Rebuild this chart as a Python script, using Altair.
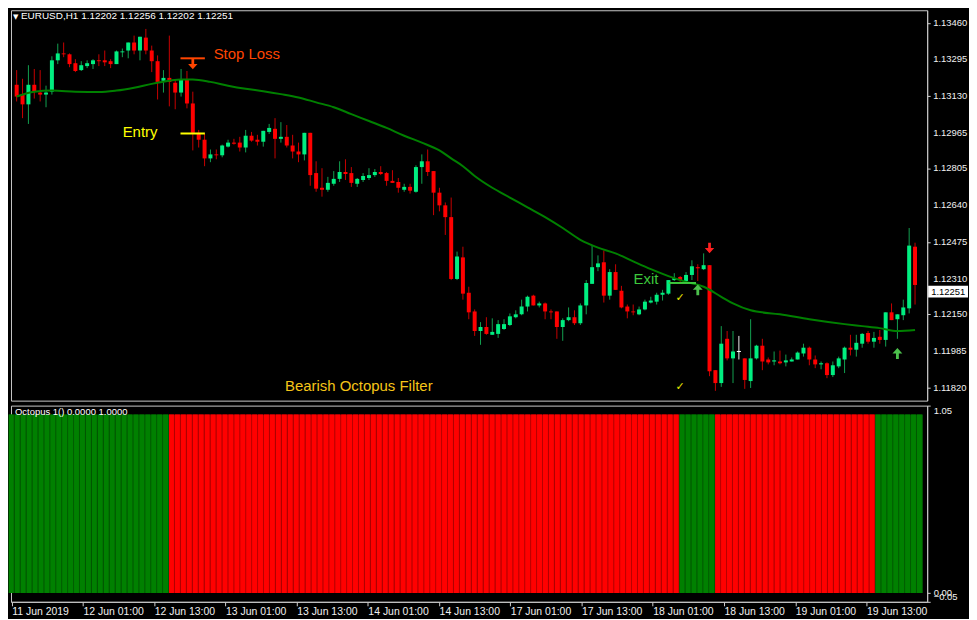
import altair as alt
import pandas as pd

# ---------------- data (EURUSD H1, bar 0 = 11 Jun 2019 13:00) ----------------
opens = [
    1.13181, 1.13137, 1.13093, 1.13181, 1.13146, 1.13137, 1.13150, 1.13291, 1.13322, 1.13318,
    1.13278, 1.13247, 1.13265, 1.13274, 1.13291, 1.13291, 1.13287, 1.13274, 1.13327, 1.13335,
    1.13371, 1.13335, 1.13393, 1.13335, 1.13287, 1.13199, 1.13212, 1.13190, 1.13146, 1.13203,
    1.13097, 1.12965, 1.12934, 1.12850, 1.12868, 1.12864, 1.12903, 1.12921, 1.12921, 1.12899,
    1.12952, 1.12934, 1.12925, 1.12969, 1.12983, 1.12938, 1.12947, 1.12908, 1.12881, 1.12868,
    1.12965, 1.12784, 1.12718, 1.12709, 1.12736, 1.12758, 1.12789, 1.12784, 1.12736, 1.12753,
    1.12762, 1.12775, 1.12789, 1.12784, 1.12749, 1.12744, 1.12709, 1.12722, 1.12700, 1.12811,
    1.12837, 1.12793, 1.12696, 1.12639, 1.12586, 1.12308, 1.12405, 1.12246, 1.12162, 1.12074,
    1.12092, 1.12057, 1.12061, 1.12083, 1.12101, 1.12136, 1.12149, 1.12184, 1.12233, 1.12189,
    1.12198, 1.12162, 1.12162, 1.12092, 1.12123, 1.12136, 1.12109, 1.12189, 1.12286, 1.12361,
    1.12383, 1.12233, 1.12339, 1.12255, 1.12184, 1.12162, 1.12149, 1.12171, 1.12202, 1.12206,
    1.12237, 1.12242, 1.12303, 1.12317, 1.12299, 1.12326, 1.12361, 1.12352, 1.12370, 1.11898,
    1.11840, 1.12039, 1.11951, 1.11982, 1.11951, 1.11849, 1.11951, 1.12008, 1.11946, 1.11937,
    1.11937, 1.11933, 1.11937, 1.11946, 1.11973, 1.11999, 1.11946, 1.11924, 1.11929, 1.11876,
    1.11915, 1.11946, 1.11999, 1.11990, 1.12017, 1.12065, 1.12026, 1.12048, 1.12034, 1.12158,
    1.12127, 1.12145, 1.12176, 1.12453,
]
highs = [
    1.13247, 1.13208, 1.13269, 1.13252, 1.13247, 1.13177, 1.13309, 1.13366, 1.13371, 1.13322,
    1.13296, 1.13287, 1.13291, 1.13296, 1.13318, 1.13335, 1.13296, 1.13335, 1.13344, 1.13371,
    1.13402, 1.13397, 1.13432, 1.13357, 1.13313, 1.13247, 1.13402, 1.13203, 1.13252, 1.13243,
    1.13150, 1.12978, 1.12960, 1.12890, 1.12890, 1.12912, 1.12934, 1.12938, 1.12947, 1.12978,
    1.12969, 1.12956, 1.12974, 1.13005, 1.13031, 1.13013, 1.13000, 1.12956, 1.12921, 1.12965,
    1.12965, 1.12837, 1.12806, 1.12767, 1.12793, 1.12837, 1.12846, 1.12811, 1.12762, 1.12784,
    1.12806, 1.12802, 1.12815, 1.12789, 1.12797, 1.12762, 1.12736, 1.12736, 1.12819, 1.12868,
    1.12890, 1.12793, 1.12718, 1.12652, 1.12674, 1.12431, 1.12453, 1.12273, 1.12171, 1.12114,
    1.12136, 1.12131, 1.12123, 1.12127, 1.12153, 1.12167, 1.12215, 1.12233, 1.12237, 1.12206,
    1.12202, 1.12171, 1.12162, 1.12131, 1.12180, 1.12167, 1.12198, 1.12303, 1.12458, 1.12414,
    1.12436, 1.12352, 1.12374, 1.12277, 1.12193, 1.12193, 1.12184, 1.12215, 1.12228, 1.12246,
    1.12259, 1.12303, 1.12334, 1.12321, 1.12339, 1.12392, 1.12374, 1.12423, 1.12370, 1.11898,
    1.12096, 1.12074, 1.12074, 1.12052, 1.11951, 1.12127, 1.12012, 1.12039, 1.11955, 1.11982,
    1.11986, 1.11968, 1.11955, 1.11982, 1.12017, 1.12004, 1.11964, 1.11937, 1.11933, 1.11937,
    1.11959, 1.12004, 1.12057, 1.12057, 1.12065, 1.12074, 1.12070, 1.12079, 1.12158, 1.12198,
    1.12149, 1.12215, 1.12537, 1.12471,
]
lows = [
    1.13106, 1.13031, 1.13005, 1.13119, 1.13106, 1.13080, 1.13137, 1.13274, 1.13305, 1.13260,
    1.13238, 1.13243, 1.13256, 1.13252, 1.13265, 1.13265, 1.13256, 1.13274, 1.13305, 1.13300,
    1.13318, 1.13291, 1.13318, 1.13238, 1.13115, 1.13146, 1.13084, 1.13071, 1.13128, 1.13075,
    1.12886, 1.12899, 1.12815, 1.12833, 1.12846, 1.12855, 1.12899, 1.12912, 1.12881, 1.12877,
    1.12925, 1.12908, 1.12903, 1.12960, 1.12850, 1.12921, 1.12899, 1.12850, 1.12833, 1.12841,
    1.12727, 1.12700, 1.12678, 1.12700, 1.12727, 1.12744, 1.12753, 1.12722, 1.12722, 1.12744,
    1.12753, 1.12767, 1.12775, 1.12727, 1.12740, 1.12696, 1.12700, 1.12692, 1.12696, 1.12736,
    1.12771, 1.12595, 1.12612, 1.12506, 1.12303, 1.12303, 1.12215, 1.12127, 1.12052, 1.12012,
    1.12057, 1.12057, 1.12043, 1.12079, 1.12096, 1.12131, 1.12145, 1.12162, 1.12189, 1.12180,
    1.12127, 1.12127, 1.12039, 1.12030, 1.12118, 1.12101, 1.12101, 1.12149, 1.12286, 1.12343,
    1.12202, 1.12215, 1.12259, 1.12176, 1.12131, 1.12145, 1.12145, 1.12167, 1.12198, 1.12193,
    1.12211, 1.12237, 1.12299, 1.12295, 1.12295, 1.12303, 1.12299, 1.12348, 1.11871, 1.11805,
    1.11823, 1.11942, 1.11840, 1.11946, 1.11814, 1.11818, 1.11946, 1.11898, 1.11924, 1.11920,
    1.11924, 1.11915, 1.11937, 1.11946, 1.11959, 1.11920, 1.11907, 1.11902, 1.11862, 1.11867,
    1.11907, 1.11885, 1.11964, 1.11959, 1.11999, 1.12017, 1.11999, 1.12017, 1.12004, 1.12123,
    1.12039, 1.12123, 1.12153, 1.12193,
]
closes = [
    1.13128, 1.13093, 1.13181, 1.13150, 1.13137, 1.13146, 1.13291, 1.13322, 1.13318, 1.13274,
    1.13243, 1.13269, 1.13278, 1.13291, 1.13287, 1.13282, 1.13274, 1.13331, 1.13331, 1.13371,
    1.13335, 1.13397, 1.13335, 1.13287, 1.13194, 1.13212, 1.13194, 1.13146, 1.13203, 1.13097,
    1.12965, 1.12934, 1.12850, 1.12868, 1.12864, 1.12908, 1.12921, 1.12916, 1.12899, 1.12952,
    1.12930, 1.12925, 1.12974, 1.12987, 1.12938, 1.12947, 1.12908, 1.12881, 1.12868, 1.12965,
    1.12775, 1.12714, 1.12709, 1.12740, 1.12758, 1.12789, 1.12780, 1.12740, 1.12758, 1.12771,
    1.12775, 1.12789, 1.12780, 1.12749, 1.12740, 1.12718, 1.12722, 1.12705, 1.12811, 1.12837,
    1.12789, 1.12696, 1.12639, 1.12586, 1.12308, 1.12409, 1.12242, 1.12158, 1.12074, 1.12092,
    1.12061, 1.12070, 1.12105, 1.12105, 1.12140, 1.12149, 1.12184, 1.12228, 1.12189, 1.12198,
    1.12162, 1.12158, 1.12092, 1.12123, 1.12136, 1.12109, 1.12189, 1.12290, 1.12361, 1.12378,
    1.12233, 1.12339, 1.12259, 1.12180, 1.12162, 1.12158, 1.12171, 1.12206, 1.12211, 1.12237,
    1.12246, 1.12303, 1.12312, 1.12303, 1.12326, 1.12365, 1.12356, 1.12370, 1.11893, 1.11840,
    1.12017, 1.11951, 1.11982, 1.11982, 1.11854, 1.11951, 1.12008, 1.11937, 1.11933, 1.11942,
    1.11929, 1.11942, 1.11946, 1.11977, 1.11999, 1.11946, 1.11924, 1.11929, 1.11876, 1.11920,
    1.11951, 1.11999, 1.11990, 1.12021, 1.12061, 1.12026, 1.12043, 1.12034, 1.12158, 1.12123,
    1.12149, 1.12180, 1.12458, 1.12281,
]

# moving average read at selected bars
ma_idx = [0, 3, 6, 10, 14, 17, 20, 23, 26, 28, 30, 33, 36, 39, 42, 45, 48, 51, 54, 57,
          60, 63, 66, 69, 72, 74, 76, 78, 81, 84, 87, 90, 93, 96, 99, 102, 105, 108, 111, 114,
          117, 120, 122, 125, 130, 135, 141, 144, 147, 150, 153]
ma_val = [1.13128, 1.13150, 1.13155, 1.13150, 1.13148, 1.13155, 1.13168, 1.13185, 1.13199, 1.13205,
          1.13205, 1.13194, 1.13177, 1.13163, 1.13152, 1.13139, 1.13124, 1.13102, 1.13080, 1.13049,
          1.13018, 1.12987, 1.12952, 1.12921, 1.12886, 1.12850, 1.12815, 1.12771, 1.12718, 1.12674,
          1.12630, 1.12586, 1.12537, 1.12484, 1.12449, 1.12423, 1.12387, 1.12352, 1.12321, 1.12295,
          1.12273, 1.12228, 1.12198, 1.12167, 1.12149, 1.12127, 1.12105, 1.12096, 1.12087, 1.12074,
          1.12079]

# Octopus filter state, as runs of bars
filter_runs = [("up", 27), ("down", 86), ("up", 6), ("down", 27), ("up", 8)]
filter_level = 1.0

price_ticks = [1.13460, 1.13295, 1.13130, 1.12965, 1.12805, 1.12640, 1.12475,
               1.12310, 1.12150, 1.11985, 1.11820]
time_tick_idx = [0, 12, 24, 36, 48, 60, 72, 84, 96, 108, 120, 132, 144]
time_tick_labels = ["11 Jun 2019", "12 Jun 01:00", "12 Jun 13:00", "13 Jun 01:00",
                    "13 Jun 13:00", "14 Jun 01:00", "14 Jun 13:00", "17 Jun 01:00",
                    "17 Jun 13:00", "18 Jun 01:00", "18 Jun 13:00", "19 Jun 01:00",
                    "19 Jun 13:00"]

header = "EURUSD,H1  1.12202 1.12256 1.12202 1.12251"
last_price = 1.12251

# trade annotations (bar index, price)
level_lines = [("sl", 27.9, 32.05, 1.13300), ("entry", 27.9, 32.05, 1.12962), ("exit", 111.05, 115.7, 1.12290)]
labels = [("Stop Loss", 33.55, 1.13318, "sl"), ("Entry", 18.05, 1.12969, "entry"),
          ("Exit", 105.05, 1.12308, "exit"), ("Bearish Octopus Filter", 45.7, 1.11827, "filter")]
down_arrows = [(30, 1.13274, "sl"), (118, 1.12447, "sell")]
up_arrows = [(116, 1.12259, "buy"), (150, 1.11973, "buy")]
checks = [(113, 1.12224), (113, 1.11821)]

# ---------------- styling ----------------
ann_colors = {"sl": "#ff4500", "entry": "#ffff00", "exit": "#3cc83c", "filter": "#f5c518",
              "sell": "#ff2020", "buy": "#4cc04c"}
FONT = "Liberation Sans"
W, H1, H2 = 920, 392, 197
XD = [-0.12, 154.22]
YD = [1.11761, 1.13516]

n = len(opens)
bars = pd.DataFrame({"i": list(range(n)), "o": opens, "h": highs, "l": lows, "c": closes})
bars["dir"] = ["up" if c > o else ("down" if c < o else "doji") for o, c in zip(opens, closes)]
bars["wc"] = bars["dir"].map({"up": "#12a050", "down": "#c80000", "doji": "#f0f0f0"})
bars["bc"] = bars["dir"].map({"up": "#00ee80", "down": "#ff0000", "doji": "#ffffff"})

xs = alt.Scale(domain=XD, nice=False, zero=False)
ys = alt.Scale(domain=YD, nice=False, zero=False)

base = alt.Chart(bars)
wicks = base.mark_rule(strokeWidth=1).encode(
    x=alt.X("i:Q", scale=xs, axis=None),
    y=alt.Y("l:Q", scale=ys, title=None,
            axis=alt.Axis(orient="right", values=price_ticks, labels=False, tickSize=3,
                          grid=False)),
    y2="h:Q",
    color=alt.Color("wc:N", scale=None),
)
bodies = base.transform_filter("datum.dir != 'doji'").mark_bar(size=4).encode(
    x="i:Q", y="o:Q", y2="c:Q", color=alt.Color("bc:N", scale=None)
)
doji = base.transform_filter("datum.dir == 'doji'").transform_calculate(
    a="datum.i - 0.35", b="datum.i + 0.35"
).mark_rule(strokeWidth=1).encode(x="a:Q", x2="b:Q", y="c:Q", color=alt.Color("bc:N", scale=None))

# price scale labels (drawn as text so every one of them stays visible)
pt = pd.DataFrame({"p": price_ticks, "t": [f"{v:.5f}" for v in price_ticks]})
price_lbls = alt.Chart(pt).mark_text(align="left", baseline="middle", font=FONT, fontSize=9.5,
                                     color="#f0f0f0").encode(
    x=alt.value(W + 6), y="p:Q", text="t:N")

ma_df = pd.DataFrame({"i": ma_idx, "v": ma_val})
ma_line = alt.Chart(ma_df).mark_line(color="#008000", strokeWidth=2, interpolate="monotone").encode(
    x="i:Q", y="v:Q"
)

lv = pd.DataFrame(level_lines, columns=["k", "x1", "x2", "p"])
lv["col"] = lv["k"].map(ann_colors)
lvl = alt.Chart(lv).mark_rule(strokeWidth=2).encode(
    x="x1:Q", x2="x2:Q", y="p:Q", color=alt.Color("col:N", scale=None)
)

lb = pd.DataFrame(labels, columns=["t", "i", "p", "k"])
lb["col"] = lb["k"].map(ann_colors)
lbl = alt.Chart(lb).mark_text(align="left", baseline="middle", font=FONT, fontSize=15).encode(
    x="i:Q", y="p:Q", text="t:N", color=alt.Color("col:N", scale=None)
)

DOWN = "M-0.26,-1L0.26,-1L0.26,0L0.9,0L0,1L-0.9,0L-0.26,0Z"
UP = "M-0.26,1L0.26,1L0.26,0L0.9,0L0,-1L-0.9,0L-0.26,0Z"
da = pd.DataFrame(down_arrows, columns=["i", "p", "k"])
da["col"] = da["k"].map(ann_colors)
ua = pd.DataFrame(up_arrows, columns=["i", "p", "k"])
ua["col"] = ua["k"].map(ann_colors)
darr = alt.Chart(da).mark_point(shape=DOWN, filled=True, size=110, opacity=1, strokeWidth=0).encode(
    x="i:Q", y="p:Q", color=alt.Color("col:N", scale=None)
)
uarr = alt.Chart(ua).mark_point(shape=UP, filled=True, size=121, opacity=1, strokeWidth=0).encode(
    x="i:Q", y="p:Q", color=alt.Color("col:N", scale=None)
)

ck = pd.DataFrame(checks, columns=["i", "p"])
ck["t"] = "✓"
ckm = alt.Chart(ck).mark_text(font="DejaVu Sans", fontSize=11, color="#e8e800").encode(
    x="i:Q", y="p:Q", text="t:N"
)

hdr = pd.DataFrame({"t": [header], "tri": ["▼"]})
hdr_tri = alt.Chart(hdr).mark_text(align="left", baseline="top", font="DejaVu Sans", fontSize=7,
                                   color="#ffffff").encode(
    x=alt.value(2), y=alt.value(3), text="tri:N")
hdr_txt = alt.Chart(hdr).mark_text(align="left", baseline="top", font=FONT, fontSize=10,
                                   color="#ffffff").encode(
    x=alt.value(10), y=alt.value(1), text="t:N")

lp = pd.DataFrame({"p": [last_price], "t": [f"{last_price:.5f}"]})
BOX = "M-1,-0.3L1,-0.3L1,0.3L-1,0.3Z"
lp_box = alt.Chart(lp).mark_point(shape=BOX, filled=True, size=1600, opacity=1, strokeWidth=0,
                                  color="#ffffff").encode(x=alt.value(W + 21), y="p:Q")
lp_txt = alt.Chart(lp).mark_text(align="left", baseline="middle", font=FONT, fontSize=9.5,
                                 color="#000000").encode(x=alt.value(W + 4), y="p:Q", text="t:N")

top = alt.layer(wicks, bodies, doji, ma_line, lvl, lbl, darr, uarr, ckm, hdr_tri, hdr_txt,
                price_lbls, lp_box, lp_txt).properties(width=W, height=H1)

# ---------------- indicator panel ----------------
states = []
for s, cnt in filter_runs:
    states += [s] * cnt
ind = pd.DataFrame({"i": list(range(len(states))), "s": states, "v": [filter_level] * len(states)})
ind["dark"] = ind["s"].map({"up": "#005c00", "down": "#b80000"})
ind["bright"] = ind["s"].map({"up": "#008000", "down": "#ff0000"})

label_expr = "[" + ",".join(f"'{t}'" for t in time_tick_labels) + "][round(datum.value / 12)]"
ibase = alt.Chart(ind).transform_calculate(a="datum.i - 0.5", b="datum.i + 0.5", b2="datum.i + 0.33")
ind_dark = ibase.mark_rect().encode(
    x=alt.X("a:Q", scale=xs, title=None,
            axis=alt.Axis(values=time_tick_idx, labelExpr=label_expr, labelAlign="left",
                          labelOverlap=False, tickSize=4, labelPadding=1, grid=False,
                          labelFontSize=10.5)),
    x2="b:Q",
    y=alt.Y("v:Q", scale=alt.Scale(domain=[-0.05, 1.05], nice=False, zero=False), title=None,
            axis=alt.Axis(orient="right", values=[1.05, 0.0, -0.05], format=".2f", labelFlush=True,
                          labelOverlap=False, tickSize=3, labelPadding=3, grid=False,
                          labelFontSize=9.5)),
    y2=alt.datum(0.0),
    color=alt.Color("dark:N", scale=None),
)
ind_bright = ibase.mark_rect().encode(
    x="a:Q", x2="b2:Q", y="v:Q", y2=alt.datum(0.0), color=alt.Color("bright:N", scale=None)
)
ind_lbl = alt.Chart(pd.DataFrame({"t": ["Octopus 1() 0.0000 1.0000"]})).mark_text(
    align="left", baseline="top", font=FONT, fontSize=9.5, color="#ffffff"
).encode(x=alt.value(4), y=alt.value(1), text="t:N")

bottom = alt.layer(ind_dark, ind_bright, ind_lbl).properties(width=W, height=H2)

chart = alt.vconcat(top, bottom, spacing=3).properties(
    background="#000000", padding=0
).configure_view(
    stroke="#c8c8c8", strokeWidth=1
).configure_axis(
    labelColor="#f0f0f0", tickColor="#d0d0d0", domainColor="#c8c8c8", labelFont=FONT, grid=False,
    labelOverlap=False
)

chart.save("out.html", embed_options={"renderer": "svg", "actions": False})
